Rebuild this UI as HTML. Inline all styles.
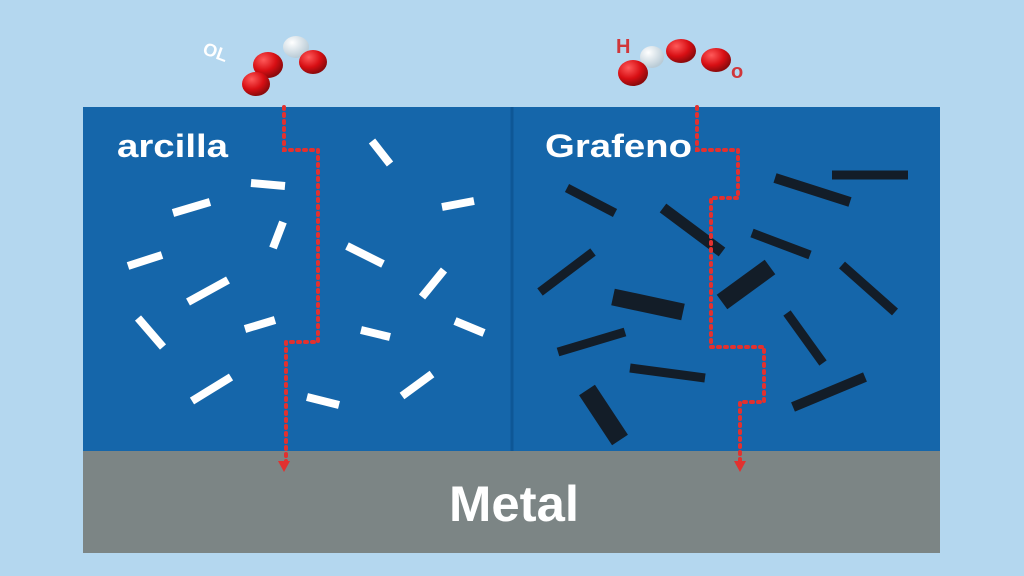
<!DOCTYPE html>
<html><head><meta charset="utf-8"><style>
html,body{margin:0;padding:0;background:#b4d7ef;}
svg{display:block}
text{font-family:"Liberation Sans",sans-serif;font-weight:bold}
</style></head><body>
<svg width="1024" height="576" viewBox="0 0 1024 576" xmlns="http://www.w3.org/2000/svg">
<defs>
<radialGradient id="r" cx="35%" cy="30%" r="70%"><stop offset="0" stop-color="#ff5a5a"/><stop offset="0.6" stop-color="#d80f14"/><stop offset="1" stop-color="#8c0a0c"/></radialGradient>
<radialGradient id="w" cx="35%" cy="30%" r="70%"><stop offset="0" stop-color="#ffffff"/><stop offset="1" stop-color="#b9cbd6"/></radialGradient>
</defs>
<rect width="1024" height="576" fill="#b4d7ef"/>
<rect x="83" y="107" width="857" height="345" fill="#1566aa"/>
<line x1="512" y1="107" x2="512" y2="452" stroke="#0e5796" stroke-width="3"/>
<rect x="83" y="451" width="857" height="102" fill="#7c8585"/>
<text x="117" y="157" font-size="32" fill="#fff" textLength="111" lengthAdjust="spacingAndGlyphs">arcilla</text>
<text x="545" y="157" font-size="32" fill="#fff" textLength="147" lengthAdjust="spacingAndGlyphs">Grafeno</text>
<text x="449" y="521" font-size="50" fill="#fff" textLength="130" lengthAdjust="spacingAndGlyphs">Metal</text>
<g stroke="#fff" stroke-width="8">
<line x1="372" y1="141" x2="390" y2="164"/>
<line x1="251" y1="183" x2="285" y2="186"/>
<line x1="173" y1="213" x2="210" y2="202"/>
<line x1="442" y1="207" x2="474" y2="201"/>
<line x1="273" y1="248" x2="283" y2="222"/>
<line x1="128" y1="266" x2="162" y2="255"/>
<line x1="347" y1="246" x2="383" y2="264"/>
<line x1="188" y1="302" x2="228" y2="280"/>
<line x1="422" y1="297" x2="444" y2="270"/>
<line x1="138" y1="318" x2="163" y2="347"/>
<line x1="245" y1="329" x2="275" y2="320"/>
<line x1="361" y1="330" x2="390" y2="337"/>
<line x1="455" y1="321" x2="484" y2="333"/>
<line x1="192" y1="401" x2="231" y2="377"/>
<line x1="307" y1="397" x2="339" y2="405"/>
<line x1="402" y1="396" x2="432" y2="374"/>
</g>
<g stroke="#131d28">
<line x1="567" y1="188" x2="615" y2="213" stroke-width="9"/>
<line x1="663" y1="208" x2="722" y2="252" stroke-width="11"/>
<line x1="775" y1="178" x2="850" y2="202" stroke-width="10"/>
<line x1="832" y1="175" x2="908" y2="175" stroke-width="9"/>
<line x1="752" y1="233" x2="810" y2="255" stroke-width="9"/>
<line x1="540" y1="292" x2="593" y2="252" stroke-width="9"/>
<line x1="613" y1="297" x2="683" y2="312" stroke-width="17"/>
<line x1="722" y1="302" x2="770" y2="267" stroke-width="18"/>
<line x1="842" y1="265" x2="895" y2="312" stroke-width="9"/>
<line x1="558" y1="352" x2="625" y2="332" stroke-width="9"/>
<line x1="787" y1="313" x2="823" y2="363" stroke-width="9"/>
<line x1="630" y1="368" x2="705" y2="378" stroke-width="9"/>
<line x1="793" y1="407" x2="865" y2="377" stroke-width="10"/>
<line x1="587" y1="390" x2="620" y2="440" stroke-width="19"/>
</g>
<g fill="none" stroke="#e2312f" stroke-width="4" stroke-dasharray="2 5" stroke-linecap="round">
<polyline points="284,107 284,150 318,150 318,342 286,342 286,462"/>
<polyline points="697,107 697,150 738,150 738,198 711,198 711,347 764,347 764,402 740,402 740,462"/>
</g>
<polygon points="278,461 290,461 284,472" fill="#e2312f"/>
<polygon points="734,461 746,461 740,472" fill="#e2312f"/>
<ellipse cx="296" cy="47" rx="13" ry="11" fill="url(#w)"/>
<ellipse cx="313" cy="62" rx="14" ry="12" fill="url(#r)"/>
<ellipse cx="268" cy="65" rx="15" ry="13" fill="url(#r)"/>
<ellipse cx="256" cy="84" rx="14" ry="12" fill="url(#r)"/>
<text x="203" y="58" font-size="18" fill="#fff" transform="rotate(20 215 52)">OL</text>
<ellipse cx="652" cy="57" rx="12" ry="11" fill="url(#w)"/>
<ellipse cx="633" cy="73" rx="15" ry="13" fill="url(#r)"/>
<ellipse cx="681" cy="51" rx="15" ry="12" fill="url(#r)"/>
<ellipse cx="716" cy="60" rx="15" ry="12" fill="url(#r)"/>
<text x="616" y="53" font-size="20" fill="#d0363a" font-weight="normal">H</text>
<text x="731" y="78" font-size="20" fill="#d0363a" font-weight="normal">o</text>
</svg>
</body></html>
